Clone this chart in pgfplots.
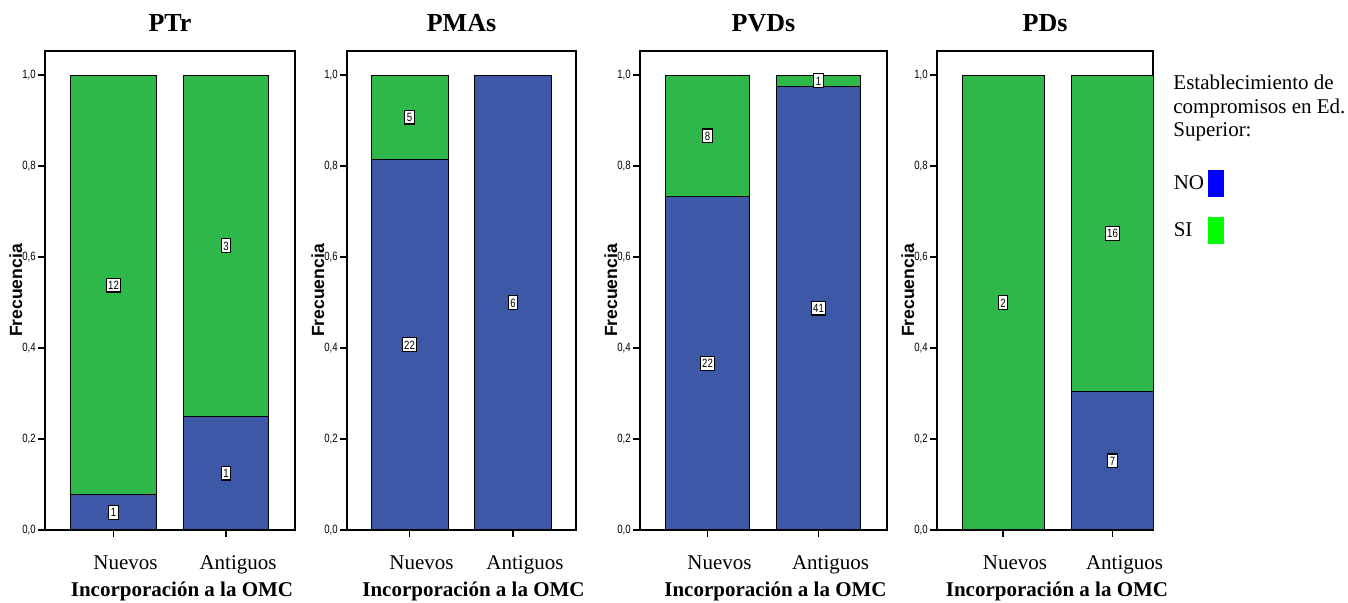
\documentclass[border=0pt]{standalone}
\usepackage{fontspec}
\setmainfont{Liberation Serif}
\newfontfamily\narrowsf[FakeStretch=0.8]{Liberation Sans}
\newfontfamily\sfb{Liberation Sans}
\usepackage{pgfplots}
\pgfplotsset{compat=1.18}
\definecolor{barblue}{RGB}{62,88,168}
\definecolor{bargreen}{RGB}{46,184,74}
\pgfplotsset{
  panel/.style={
    scale only axis, height=239.5pt, ymin=0, ymax=1.053,
    axis line style={line width=0.8pt},
    xtick={0,1}, xticklabels={Nuevos,Antiguos},
    ytick={0,0.2,0.4,0.6,0.8,1.0},
    xtick pos=bottom, ytick pos=left,
    tick align=outside, major tick length=3.5pt,
    tick style={line width=0.7pt, black},
    yticklabel={\pgfmathprintnumber[use comma,fixed,fixed zerofill,precision=1,assume math mode=true]{\tick}},
    yticklabel style={font=\narrowsf\fontsize{6}{7}\selectfont, inner sep=1pt},
    xticklabel style={font=\fontsize{10.5}{12}\selectfont, anchor=base, yshift=-16.5pt, xshift=6pt},
    ylabel={Frecuencia}, ylabel shift=-4.5pt,
    ylabel style={font=\sfb\bfseries\fontsize{8.8}{9.5}\selectfont},
    xlabel={Incorporación a la OMC},
    xlabel style={font=\bfseries\fontsize{10.5}{12}\selectfont, at={(axis description cs:0.5,0)}, anchor=base, yshift=-33.5pt, xshift=6pt},
    title style={font=\bfseries\fontsize{13}{15}\selectfont, at={(axis description cs:0.5,1)}, anchor=base, yshift=3.5pt},
  },
  sibar/.style={ybar, bar shift=0pt, fill=bargreen, draw=black, line width=0.5pt},
  nobar/.style={ybar, bar shift=0pt, fill=barblue, draw=black, line width=0.5pt},
  lbl/.style={draw=none, mark=none, nodes near coords, point meta=explicit symbolic,
    every node near coord/.append style={anchor=center, font=\narrowsf\fontsize{6}{7}\selectfont,
      draw=black, fill=white, line width=0.6pt, inner xsep=1pt, inner ysep=1.2pt, text height=4.5pt, text depth=0pt}},
}
\begin{document}
\begin{tikzpicture}
\useasboundingbox (0,0) rectangle (674pt,301.5pt);
% PTr
\begin{axis}[panel, at={(22.5pt,36.5pt)}, width=125pt, xmin=-0.609, xmax=1.613, title={PTr}]
\addplot[sibar, bar width=0.756] coordinates {(0,1) (1,1)};
\addplot[nobar, bar width=0.756] coordinates {(0,0.077) (1,0.25)};
\addplot[lbl] coordinates {(0,0.0385) [1] (0,0.5385) [12] (1,0.125) [1] (1,0.625) [3]};
\end{axis}
% PMAs
\begin{axis}[panel, at={(173.5pt,36.5pt)}, width=114.5pt, xmin=-0.604, xmax=1.609, title={PMAs}]
\addplot[sibar, bar width=0.744] coordinates {(0,1) (1,1)};
\addplot[nobar, bar width=0.744] coordinates {(0,0.815) (1,1)};
\addplot[lbl] coordinates {(0,0.4075) [22] (0,0.9075) [5] (1,0.5) [6]};
\end{axis}
% PVDs
\begin{axis}[panel, at={(320pt,36.5pt)}, width=123.5pt, xmin=-0.608, xmax=1.617, title={PVDs}]
\addplot[sibar, bar width=0.748] coordinates {(0,1) (1,1)};
\addplot[nobar, bar width=0.748] coordinates {(0,0.733) (1,0.976)};
\addplot[lbl] coordinates {(0,0.3665) [22] (0,0.8665) [8] (1,0.488) [41] (1,0.988) [1]};
\end{axis}
% PDs
\begin{axis}[panel, at={(468.5pt,36.5pt)}, width=108pt, xmin=-0.603, xmax=1.37, title={PDs},
  legend plot pos=right,
  legend style={at={(axis description cs:1.048,0.76)}, anchor=north west, draw=none, fill=none,
    font=\fontsize{10.5}{12}\selectfont, row sep=10pt},
  legend cell align=left]
\addlegendimage{legend image code/.code={\fill[blue] (0pt,-6.5pt) rectangle (7.5pt,6.5pt);}}
\addlegendimage{legend image code/.code={\fill[green] (0pt,-6.5pt) rectangle (7.5pt,6.5pt);}}
\addplot[sibar, bar width=0.749] coordinates {(0,1) (1,1)};
\addplot[nobar, bar width=0.749] coordinates {(0,0) (1,0.304)};
\addplot[lbl] coordinates {(0,0.5) [2] (1,0.152) [7] (1,0.652) [16]};
\legend{NO,SI}
\end{axis}
\node[anchor=north west, align=left, inner sep=0pt, font=\fontsize{10.5}{11.75}\selectfont] at (586.5pt,264pt) {Establecimiento de\\compromisos en Ed.\\Superior:};
\end{tikzpicture}
\end{document}
